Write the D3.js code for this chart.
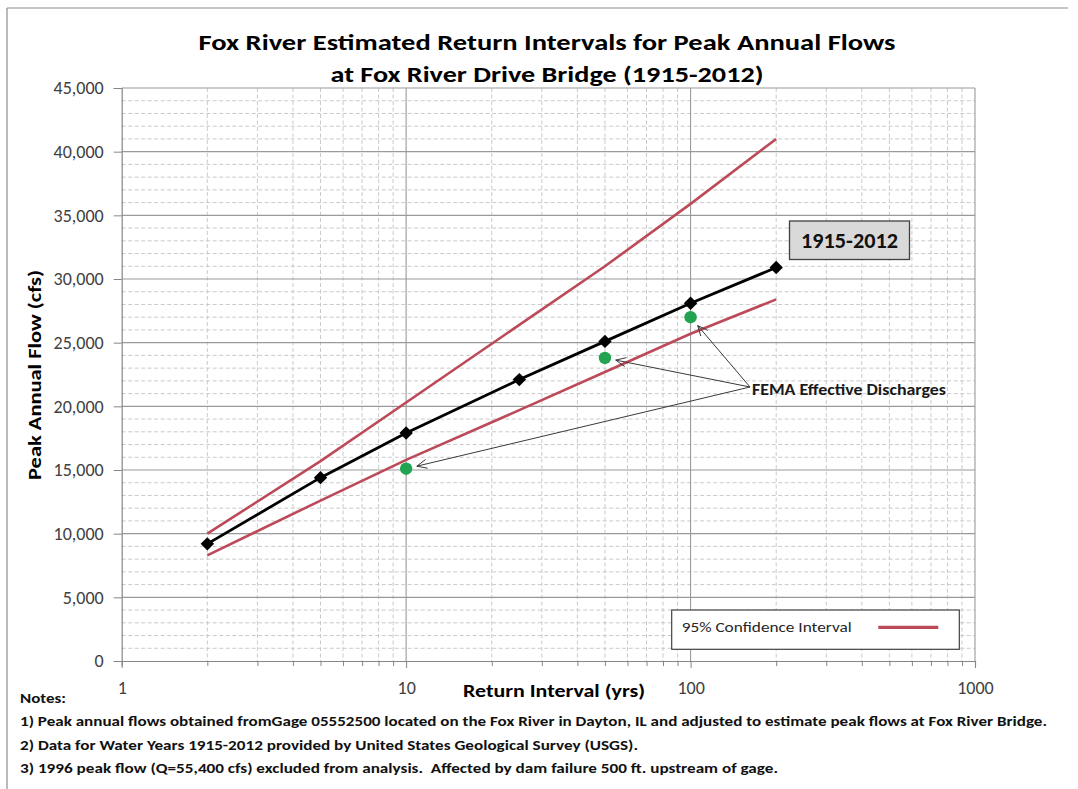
<!DOCTYPE html>
<html>
<head>
<meta charset="utf-8">
<script src="https://cdn.jsdelivr.net/npm/d3@7"></script>
<style>
  html, body { margin: 0; padding: 0; background: #fff; }
  svg { display: block; }
  text { font-family: Calibri, Carlito, Lato, "Open Sans", sans-serif; }
</style>
</head>
<body>
<svg id="chart" width="1078" height="789"></svg>
<script>
// Return periods (years) of the frequency analysis
const returnYears = [2, 5, 10, 25, 50, 100, 200];
// Estimated peak annual flow, 1915-2012 record (cfs)
const peakFlow = [9200, 14400, 17900, 22100, 25100, 28100, 30900];
// 95% confidence limits (cfs)
const upperCI = [10000, 15700, 20300, 26400, 31000, 35900, 41000];
const lowerCI = [8300, 12600, 15800, 19700, 22700, 25700, 28400];
// FEMA effective discharges
const femaYears = [10, 50, 100];
const femaFlow = [15100, 23800, 27000];
// Axis ticks
const xTickLabels = [1, 10, 100, 1000];
const yTickLabels = [0, 5000, 10000, 15000, 20000, 25000, 30000, 35000, 40000, 45000];

const titleLines = [
  "Fox River Estimated Return Intervals for Peak Annual Flows",
  "at Fox River Drive Bridge (1915-2012)"
];
const notes = [
  "Notes:",
  "1) Peak annual flows obtained fromGage 05552500 located on the Fox River in Dayton, IL and adjusted to estimate peak flows at Fox River Bridge.",
  "2) Data for Water Years 1915-2012 provided by United States Geological Survey (USGS).",
  "3) 1996 peak flow (Q=55,400 cfs) excluded from analysis.  Affected by dam failure 500 ft. upstream of gage."
];

const svg = d3.select("#chart");
const plot = { left: 121.7, right: 975, top: 88, bottom: 661 };
const fontStack = "Calibri, Carlito, Lato, 'Open Sans', sans-serif";

const x = d3.scaleLog().domain([1, 1000]).range([plot.left, plot.right]);
const y = d3.scaleLinear().domain([0, 45000]).range([plot.bottom, plot.top]);

// outer chart frame
svg.append("line").attr("x1", 7).attr("y1", 8).attr("x2", 1068).attr("y2", 8)
  .attr("stroke", "#8c8c8c").attr("stroke-width", 1.2);
svg.append("line").attr("x1", 7).attr("y1", 8).attr("x2", 7).attr("y2", 789)
  .attr("stroke", "#8c8c8c").attr("stroke-width", 1.2);

// minor grid values
const minorX = [];
[1, 10, 100].forEach(d => { for (let k = 2; k <= 9; k++) minorX.push(d * k); });
const minorY = d3.range(1000, 45000, 1000).filter(v => v % 5000 !== 0);

const grid = svg.append("g");
grid.selectAll(".hminor").data(minorY).join("line")
  .attr("x1", plot.left).attr("x2", plot.right)
  .attr("y1", d => y(d)).attr("y2", d => y(d))
  .attr("stroke", "#c4c4c4").attr("stroke-width", 0.9).attr("stroke-dasharray", "4,2.5");
grid.selectAll(".vminor").data(minorX).join("line")
  .attr("x1", d => x(d)).attr("x2", d => x(d))
  .attr("y1", plot.top).attr("y2", plot.bottom)
  .attr("stroke", "#c4c4c4").attr("stroke-width", 0.9).attr("stroke-dasharray", "4,2.5");
grid.selectAll(".hmajor").data(yTickLabels.filter(d => d > 0)).join("line")
  .attr("x1", plot.left).attr("x2", plot.right)
  .attr("y1", d => y(d)).attr("y2", d => y(d))
  .attr("stroke", "#9a9a9a").attr("stroke-width", 1.1);
grid.selectAll(".vmajor").data(xTickLabels.filter(d => d > 1)).join("line")
  .attr("x1", d => x(d)).attr("x2", d => x(d))
  .attr("y1", plot.top).attr("y2", plot.bottom)
  .attr("stroke", "#9a9a9a").attr("stroke-width", 1.1);

// Y axis
const yAxis = svg.append("g").attr("transform", `translate(${plot.left},0)`)
  .call(d3.axisLeft(y).tickValues(yTickLabels).tickSize(8).tickPadding(10)
    .tickFormat(d3.format(",")));
yAxis.select(".domain").attr("stroke", "#868686").attr("stroke-width", 1.2);
yAxis.selectAll(".tick line").attr("stroke", "#868686");
yAxis.selectAll(".tick text").attr("font-size", 18).attr("fill", "#404040")
  .style("font-family", fontStack);

// X axis: minor and major ticks below the axis line
const xAxisG = svg.append("g").attr("transform", `translate(0,${plot.bottom})`);
xAxisG.call(d3.axisBottom(x).tickValues(minorX).tickSize(5).tickFormat(""));
xAxisG.select(".domain").attr("stroke", "#868686").attr("stroke-width", 1.2);
xAxisG.selectAll(".tick line").attr("stroke", "#868686");
const xMajor = svg.append("g").attr("transform", `translate(0,${plot.bottom})`)
  .call(d3.axisBottom(x).tickValues(xTickLabels).tickSize(7).tickPadding(13)
    .tickFormat(d3.format("d")));
xMajor.select(".domain").remove();
xMajor.selectAll(".tick line").attr("stroke", "#868686");
xMajor.selectAll(".tick text").attr("font-size", 18).attr("fill", "#404040")
  .style("font-family", fontStack);

// Series lines
const toPts = vals => returnYears.map((t, i) => [t, vals[i]]);
const line = d3.line().x(d => x(d[0])).y(d => y(d[1]));
const ciColor = "#bc4a58";
[upperCI, lowerCI].forEach(vals => {
  svg.append("path").datum(toPts(vals)).attr("d", line)
    .attr("fill", "none").attr("stroke", ciColor).attr("stroke-width", 2.6);
});
svg.append("path").datum(toPts(peakFlow)).attr("d", line)
  .attr("fill", "none").attr("stroke", "#000").attr("stroke-width", 2.8);
svg.selectAll(".diamond").data(toPts(peakFlow)).join("path")
  .attr("d", d3.symbol(d3.symbolDiamond2, 115)())
  .attr("transform", d => `translate(${x(d[0])},${y(d[1])})`)
  .attr("fill", "#000");

// FEMA points
const femaPts = femaYears.map((t, i) => [t, femaFlow[i]]);
svg.selectAll(".fema").data(femaPts).join("circle")
  .attr("cx", d => x(d[0])).attr("cy", d => y(d[1])).attr("r", 6.2)
  .attr("fill", "#22a352");

// Annotation text with arrows
const annoX = 752, annoY = 395;
svg.append("text").attr("x", annoX).attr("y", annoY)
  .attr("font-size", 16.5).attr("font-weight", "bold").attr("fill", "#1a1a1a")
  .attr("textLength", 194).attr("lengthAdjust", "spacingAndGlyphs")
  .text("FEMA Effective Discharges");
const origin = [annoX - 2, annoY - 8];
const arrows = svg.append("g").attr("stroke", "#3a3a3a").attr("stroke-width", 1).attr("fill", "none");
femaPts.forEach(d => {
  const px = x(d[0]), py = y(d[1]);
  const dx = origin[0] - px, dy = origin[1] - py;
  const len = Math.hypot(dx, dy);
  const gap = 11;
  const tx = px + dx / len * gap, ty = py + dy / len * gap;
  arrows.append("line").attr("x1", origin[0]).attr("y1", origin[1]).attr("x2", tx).attr("y2", ty);
  const ang = Math.atan2(dy, dx);
  const hl = 11, spread = 0.42;
  arrows.append("path").attr("d",
    `M${tx + hl * Math.cos(ang + spread)},${ty + hl * Math.sin(ang + spread)}L${tx},${ty}L${tx + hl * Math.cos(ang - spread)},${ty + hl * Math.sin(ang - spread)}`);
});

// Series label box
svg.append("rect").attr("x", 789.5).attr("y", 221).attr("width", 120).attr("height", 38.5)
  .attr("fill", "#d9d9d9").attr("stroke", "#404040").attr("stroke-width", 1.3);
svg.append("text").attr("x", 849.5).attr("y", 248).attr("text-anchor", "middle")
  .attr("font-size", 22).attr("font-weight", "bold").attr("fill", "#111")
  .attr("textLength", 97).attr("lengthAdjust", "spacingAndGlyphs")
  .text("1915-2012");

// Legend
svg.append("rect").attr("x", 671.7).attr("y", 610).attr("width", 287.6).attr("height", 39.3)
  .attr("fill", "#fff").attr("stroke", "#404040").attr("stroke-width", 1.2);
svg.append("text").attr("x", 681.7).attr("y", 631.5)
  .attr("font-size", 15).attr("fill", "#262626")
  .attr("textLength", 170).attr("lengthAdjust", "spacingAndGlyphs")
  .text("95% Confidence Interval");
svg.append("line").attr("x1", 878.3).attr("x2", 938.3).attr("y1", 627.3).attr("y2", 627.3)
  .attr("stroke", ciColor).attr("stroke-width", 3.2);

// Title
const titleW = [697, 433];
titleLines.forEach((t, i) => {
  svg.append("text").attr("x", 547).attr("y", 50 + i * 32).attr("text-anchor", "middle")
    .attr("font-size", 23).attr("font-weight", "bold").attr("fill", "#000")
    .attr("textLength", titleW[i]).attr("lengthAdjust", "spacingAndGlyphs")
    .text(t);
});

// Axis titles
svg.append("text").attr("x", 554).attr("y", 697).attr("text-anchor", "middle")
  .attr("font-size", 18.5).attr("font-weight", "bold").attr("fill", "#000")
  .attr("textLength", 182).attr("lengthAdjust", "spacingAndGlyphs")
  .text("Return Interval (yrs)");
svg.append("text").attr("transform", "translate(41,375) rotate(-90)").attr("text-anchor", "middle")
  .attr("font-size", 18.5).attr("font-weight", "bold").attr("fill", "#000")
  .attr("textLength", 210).attr("lengthAdjust", "spacingAndGlyphs")
  .text("Peak Annual Flow (cfs)");

// Notes
const noteW = [46, 1027, 618, 758];
const noteY = [703, 726, 750, 773];
notes.forEach((t, i) => {
  svg.append("text").attr("x", 20).attr("y", noteY[i])
    .attr("font-size", 14.5).attr("font-weight", "bold").attr("fill", "#111")
    .attr("textLength", noteW[i]).attr("lengthAdjust", "spacingAndGlyphs")
    .style("white-space", "pre")
    .text(t);
});
</script>
</body>
</html>
